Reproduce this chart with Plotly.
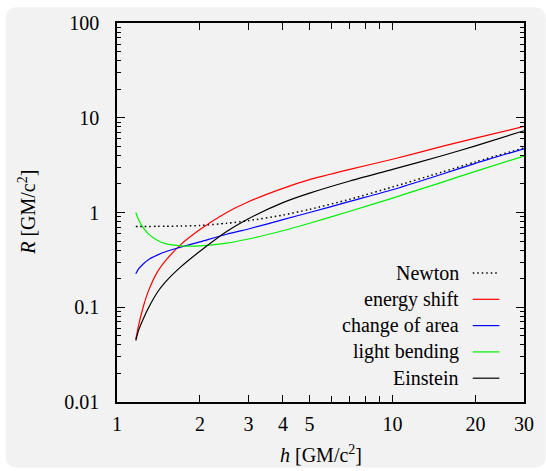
import numpy as np
import plotly.graph_objects as go

# ---- data ----
h = [1.17, 1.2, 1.25, 1.3, 1.4, 1.5, 1.7, 2, 2.5, 3, 4, 5, 7, 10, 15, 20, 30]
newton = [0.713, 0.713, 0.713, 0.713, 0.714, 0.716, 0.72, 0.73, 0.77, 0.82, 0.94, 1.08, 1.38, 1.86, 2.65, 3.42, 4.8]
energy_shift = [0.046, 0.066, 0.105, 0.148, 0.235, 0.31, 0.455, 0.66, 1.0, 1.30, 1.80, 2.22, 2.85, 3.65, 4.95, 6.1, 8.1]
change_of_area = [0.226, 0.255, 0.29, 0.318, 0.355, 0.385, 0.43, 0.49, 0.59, 0.67, 0.84, 1.0, 1.31, 1.74, 2.52, 3.3, 4.7]
light_bending = [1.0, 0.83, 0.68, 0.595, 0.51, 0.47, 0.445, 0.445, 0.475, 0.525, 0.642, 0.77, 1.03, 1.42, 2.07, 2.72, 3.94]
einstein = [0.0446, 0.058, 0.077, 0.098, 0.143, 0.185, 0.265, 0.39, 0.63, 0.86, 1.27, 1.60, 2.15, 2.85, 3.95, 5.05, 7.3]

series_names = ["Newton", "energy shift", "change of area", "light bending", "Einstein"]
series_values = [newton, energy_shift, change_of_area, light_bending, einstein]
series_colors = ["black", "#ff0000", "#0000ff", "#00ee00", "black"]
series_dash = ["1.5px,3px", "solid", "solid", "solid", "solid"]
series_width = [1.5, 1.2, 1.2, 1.2, 1.2]

x_tickvals = [1, 2, 3, 4, 5, 10, 20, 30]
x_ticktext = ["1", "2", "3", "4", "5", "10", "20", "30"]
x_minor = [6, 7, 8, 9]
y_tickvals = [0.01, 0.1, 1, 10, 100]
y_ticktext = ["0.01", "0.1", "1", "10", "100"]
y_minor = [k * 10.0 ** e for e in range(-2, 2) for k in range(2, 10)]

# ---- layout geometry (pixels) ----
W, H = 546, 471
L, R, T, B = 117, 16, 20, 69
PW, PH = W - L - R, H - T - B

def px2x(px):
    return (px - L) / PW

def py2y(py):
    return (H - B - py) / PH

FONT = "Liberation Serif"

fig = go.Figure()
for name, vals, col, dash, wd in zip(series_names, series_values, series_colors, series_dash, series_width):
    fig.add_trace(go.Scatter(x=h, y=vals, mode="lines", name=name,
                             line=dict(color=col, width=wd, dash=dash, shape="spline", smoothing=0.7),
                             showlegend=False, hoverinfo="skip"))

# rounded light-gray background panel
x0, y0, x1, y1, rr = 4, 4, 552, 468, 12
X = px2x
Y = py2y
path = (f"M {X(x0+rr)},{Y(y0)} L {X(x1-rr)},{Y(y0)} Q {X(x1)},{Y(y0)} {X(x1)},{Y(y0+rr)} "
        f"L {X(x1)},{Y(y1-rr)} Q {X(x1)},{Y(y1)} {X(x1-rr)},{Y(y1)} "
        f"L {X(x0+rr)},{Y(y1)} Q {X(x0)},{Y(y1)} {X(x0)},{Y(y1-rr)} "
        f"L {X(x0)},{Y(y0+rr)} Q {X(x0)},{Y(y0)} {X(x0+rr)},{Y(y0)} Z")
shapes = [dict(type="path", xref="paper", yref="paper", path=path,
               fillcolor="#f2f2f2", line=dict(width=0), layer="below")]

annotations = []
# manual legend: text right-aligned, line sample on the right
leg_y = [272, 298.5, 325, 351.5, 378]
for name, col, dash, wd, py in zip(series_names, series_colors, series_dash, series_width, leg_y):
    annotations.append(dict(xref="paper", yref="paper", x=px2x(466), y=py2y(py),
                            text=name, showarrow=False, xanchor="right", yanchor="middle",
                            font=dict(family=FONT, size=20, color="black")))
    shapes.append(dict(type="line", xref="paper", yref="paper",
                       x0=px2x(478), x1=px2x(505), y0=py2y(py), y1=py2y(py),
                       line=dict(color=col, width=wd, dash=dash)))

# axis titles
annotations.append(dict(xref="paper", yref="paper", x=px2x(323.5), y=py2y(454),
                        text="<i>h</i> [GM/c<sup>2</sup>]", showarrow=False,
                        xanchor="center", yanchor="middle",
                        font=dict(family=FONT, size=20, color="black")))
annotations.append(dict(xref="paper", yref="paper", x=px2x(25), y=py2y(211),
                        text="<i>R</i> [GM/c<sup>2</sup>]", showarrow=False, textangle=-90,
                        xanchor="center", yanchor="middle",
                        font=dict(family=FONT, size=20, color="black")))

axis_common = dict(type="log", showgrid=False, zeroline=False, showline=True,
                   linecolor="black", linewidth=1.5, mirror="allticks",
                   ticks="inside", tickcolor="black", tickwidth=1,
                   tickfont=dict(family=FONT, size=20, color="black"))

fig.update_layout(
    width=W, height=H,
    margin=dict(l=L, r=R, t=T, b=B, pad=0),
    paper_bgcolor="white", plot_bgcolor="rgba(0,0,0,0)",
    font=dict(family=FONT, size=20, color="black"),
    xaxis=dict(**axis_common, range=[0, np.log10(30)], tickmode="array",
               tickvals=x_tickvals, ticktext=x_ticktext, ticklen=7,
               ticklabelstandoff=3,
               minor=dict(tickmode="array", tickvals=x_minor, ticks="inside",
                          ticklen=6, tickcolor="black", tickwidth=1, showgrid=False)),
    yaxis=dict(**axis_common, range=[-2, 2], tickmode="array",
               tickvals=y_tickvals, ticktext=y_ticktext, ticklen=8,
               ticklabelstandoff=12,
               minor=dict(tickmode="array", tickvals=y_minor, ticks="inside",
                          ticklen=4, tickcolor="black", tickwidth=1, showgrid=False)),
    shapes=shapes, annotations=annotations,
    showlegend=False,
)

fig.write_html("out.html", config={"displayModeBar": False},
               post_script="document.body.style.margin='0';document.body.style.overflow='hidden';")
